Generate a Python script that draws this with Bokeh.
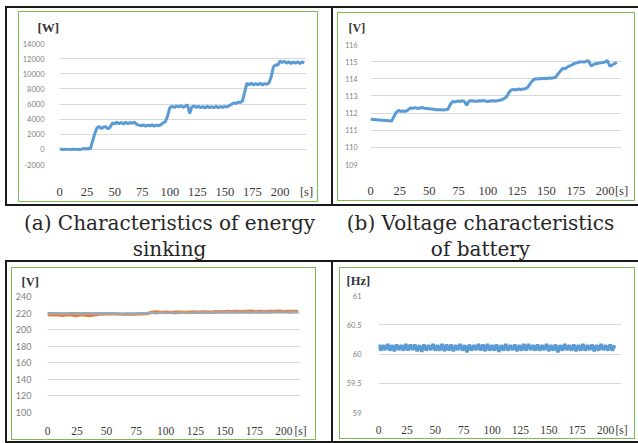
from bokeh.plotting import figure
from bokeh.models import Range1d, FixedTicker, Spacer, ColumnDataSource
from bokeh.layouts import row, column
from bokeh.core.properties import value
from bokeh.embed import file_html
from bokeh.resources import INLINE

# ---------------- data ----------------
x_ticks = [0, 25, 50, 75, 100, 125, 150, 175, 200]
x_tick_labels = ["0", "25", "50", "75", "100", "125", "150", "175", "200"]
time_unit = "[s]"

# (a) energy sinking power [W], sampled every 2 s from t = 0
power_start = 0
power_step = 2
power_w = [
    0, 20, -10, 10, 0, -20, 10, 0, 20, -10, 30,
    120, 60, 110, 80,
    1100, 2100, 2850,
    3000, 2750, 2950, 3000, 2700, 2950,
    3500, 3350, 3600, 3400, 3550, 3350, 3600, 3380, 3550, 3450,
    3600, 3300, 3200, 3100, 3250, 3080, 3200, 3100, 3250, 3080, 3200, 3120, 3280,
    3500, 3650, 4400, 5500,
    5700, 5550, 5750, 5600, 5780, 5550, 5700, 5900,
    4750, 5600, 5750, 5550, 5700, 5500, 5650, 5480, 5700, 5520, 5650, 5500, 5700, 5520, 5650, 5550, 5700, 5580,
    5800, 5950, 6150, 6050, 6250, 6200, 6400,
    7600, 8750, 8550, 8750, 8500, 8700, 8550, 8750, 8500, 8700, 8600, 8800,
    9600, 10900, 11200, 11100, 11700,
    11500, 11650, 11400, 11600, 11350, 11550, 11400, 11600, 11350, 11550, 11450,
]
power_ticks = [-2000, 0, 2000, 4000, 6000, 8000, 10000, 12000, 14000]
power_tick_labels = ["-2000", "0", "2000", "4000", "6000", "8000", "10000", "12000", "14000"]

# (b) battery voltage [V], every 2 s from t = 0
battery_start = 0
battery_step = 2
battery_v = [
    111.65, 111.63, 111.62, 111.60, 111.60, 111.58, 111.57, 111.56, 111.55, 111.53,
    111.80, 112.05, 112.15, 112.10, 112.12, 112.10, 112.18,
    112.30, 112.28, 112.32, 112.27, 112.30, 112.33, 112.28, 112.27,
    112.25, 112.24, 112.22, 112.20, 112.19, 112.20, 112.18, 112.20, 112.22,
    112.50, 112.68, 112.65, 112.70, 112.67, 112.72, 112.68, 112.45, 112.70, 112.72,
    112.70, 112.68, 112.72, 112.70, 112.73, 112.70, 112.68, 112.70, 112.72, 112.70,
    112.72, 112.75, 112.78,
    112.85, 112.95, 113.20, 113.35, 113.38, 113.35, 113.40, 113.37, 113.40, 113.42, 113.50,
    113.70, 113.88, 114.00, 113.98, 114.02, 114.00, 114.03, 114.00, 114.05, 114.03, 114.06, 114.10,
    114.30, 114.45, 114.62, 114.58, 114.70, 114.75, 114.82, 114.90, 114.93, 114.98, 115.00, 114.97,
    115.02, 115.05,
    114.75, 114.82, 114.88, 114.90, 114.93, 114.95, 114.98, 115.07,
    114.73, 114.80, 114.88, 114.95,
]
battery_ticks = [109, 110, 111, 112, 113, 114, 115, 116]
battery_tick_labels = ["109", "110", "111", "112", "113", "114", "115", "116"]

# grid voltage [V] (three phases), every 4 s from t = 0
grid_start = 0
grid_step = 4
grid_v_blue = [
    219.4, 219.7, 219.3, 219.6, 219.2, 219.8, 219.4, 219.5, 219.7, 219.3, 219.6,
    219.4, 219.6, 219.2, 219.5, 219.3, 219.0, 219.4, 219.2, 219.5, 219.6, 219.9,
    220.7, 220.3, 220.9, 220.5, 220.8, 220.4, 220.9, 220.6, 221.0, 220.7, 221.3, 221.5, 220.9, 221.1,
    221.5, 221.1, 221.6, 221.3, 221.7, 221.2, 221.5, 221.4, 221.8, 221.3, 221.6, 221.4, 221.7, 221.5,
    221.6, 221.3, 221.5, 221.6,
]
grid_v_orange = [
    217.8, 217.4, 217.6, 216.6, 217.5, 217.3, 216.5, 217.6, 217.2, 216.4, 217.5,
    218.2, 218.6, 218.9, 218.5, 218.8, 218.4, 218.6, 218.3, 218.7, 218.5, 218.9,
    221.4, 221.8, 221.2, 221.6, 221.0, 221.5, 221.7, 221.3, 221.6, 221.9, 221.4, 221.7, 221.5, 221.8,
    222.3, 222.0, 222.5, 222.2, 222.6, 222.1, 222.4, 222.7, 222.3, 222.5, 222.2, 222.6, 222.4, 222.8,
    222.3, 222.5, 222.6, 222.4,
]
grid_v_gray = [
    219.6, 219.2, 219.8, 219.0, 219.5, 219.3, 219.7, 218.9, 219.4, 219.6, 219.1,
    219.3, 219.0, 219.5, 219.2, 218.8, 219.1, 218.7, 219.0, 218.9, 219.3, 219.6,
    220.5, 219.8, 220.8, 220.1, 220.6, 219.9, 220.4, 220.7, 220.2, 220.9, 220.5, 221.0, 220.4, 220.8,
    221.2, 220.7, 221.4, 220.9, 221.3, 221.0, 221.5, 220.8, 221.3, 221.1, 221.6, 221.0, 221.4, 221.2,
    221.5, 221.1, 221.3, 221.4,
]
grid_ticks = [100, 120, 140, 160, 180, 200, 220, 240]
grid_tick_labels = ["100", "120", "140", "160", "180", "200", "220", "240"]

# grid frequency [Hz], every 2 s from t = 0
freq_start = 0
freq_step = 2
freq_hz = [
    60.16, 60.06, 60.15, 60.07, 60.17, 60.06, 60.15, 60.05, 60.16, 60.07,
    60.15, 60.06, 60.17, 60.06, 60.16, 60.07, 60.16, 60.05, 60.15, 60.04,
    60.16, 60.06, 60.15, 60.07, 60.17, 60.06, 60.15, 60.06, 60.17, 60.05,
    60.16, 60.06, 60.16, 60.05, 60.15, 60.07, 60.17, 60.06, 60.15, 60.03,
    60.16, 60.06, 60.15, 60.07, 60.17, 60.06, 60.16, 60.05, 60.17, 60.06,
    60.15, 60.06, 60.16, 60.04, 60.15, 60.06, 60.17, 60.06, 60.15, 60.07,
    60.16, 60.05, 60.15, 60.06, 60.17, 60.06, 60.17, 60.07, 60.15, 60.06,
    60.16, 60.06, 60.15, 60.07, 60.17, 60.05, 60.15, 60.06, 60.16, 60.03,
    60.15, 60.06, 60.17, 60.07, 60.15, 60.06, 60.16, 60.05, 60.15, 60.06,
    60.17, 60.06, 60.15, 60.07, 60.16, 60.05, 60.15, 60.06, 60.17, 60.07,
    60.15, 60.06, 60.16, 60.06, 60.15,
]
freq_ticks = [59, 59.5, 60, 60.5, 61]
freq_tick_labels = ["59", "59.5", "60", "60.5", "61"]

caption_a = ["(a) Characteristics of energy", "sinking"]
caption_b = ["(b) Voltage characteristics", "of battery"]

# ---------------- styling ----------------
BLUE = "#5B9BD5"
ORANGE = "#ED7D31"
GRAY = "#A5A5A5"
GREEN = "#7DBB55"
BLACK = "#1a1a1a"
TICK_FONT = "Lato"
XLAB_FONT = "Liberation Sans Narrow"


def times(start, step, vals):
    return [start + step * i for i in range(len(vals))]


def chart(w, h, L, R, T, B, xr, yr, yticks, ylabels, ysize, ystand, xsize, xstand,
          unit, u_off, u_stand, usize):
    p = figure(width=w, height=h, x_range=Range1d(*xr), y_range=Range1d(*yr),
               output_backend="svg", toolbar_location=None,
               min_border_left=L, min_border_right=R, min_border_top=T, min_border_bottom=B)
    p.background_fill_color = "white"
    p.border_fill_color = "white"
    p.outline_line_color = None
    p.xgrid.visible = False
    yt = FixedTicker(ticks=yticks)
    p.yaxis.ticker = yt
    p.ygrid.ticker = yt
    p.ygrid.grid_line_color = "#d9d9d9"
    p.ygrid.grid_line_width = 1
    # time ticks, with the time unit written at the end of the axis
    p.xaxis.ticker = FixedTicker(ticks=x_ticks + [xr[1]])
    ov = {k: v for k, v in zip(x_ticks, x_tick_labels)}
    ov[xr[1]] = time_unit
    p.xaxis.major_label_overrides = ov
    for ax in (p.xaxis[0], p.yaxis[0]):
        ax.axis_line_color = None
        ax.major_tick_line_color = None
        ax.minor_tick_line_color = None
    p.yaxis.major_label_overrides = {k: v for k, v in zip(yticks, ylabels)}
    p.yaxis.major_label_text_font = TICK_FONT
    p.yaxis.major_label_text_font_size = ysize
    p.yaxis.major_label_text_color = "#808080"
    p.yaxis.major_label_standoff = ystand
    p.xaxis.major_label_text_font = XLAB_FONT
    p.xaxis.major_label_text_font_size = xsize
    p.xaxis.major_label_text_color = "#3a3a3a"
    p.xaxis.major_label_standoff = xstand
    # unit of the value axis, shown as a title above the plot area
    p.title.text = unit
    p.title.align = "left"
    p.title.vertical_align = "top"
    p.title.offset = u_off
    p.title.standoff = u_stand
    p.title.text_font = XLAB_FONT
    p.title.text_font_style = "bold"
    p.title.text_font_size = usize
    p.title.text_color = "#333333"
    return p


def sp(w, h, color=None):
    if color is None:
        return Spacer(width=w, height=h)
    return Spacer(width=w, height=h, styles={"background-color": color})


def framed(child, w, h, color=GREEN, t=1):
    return column(sp(w, t, color),
                  row(sp(t, h - 2 * t, color), child, sp(t, h - 2 * t, color)),
                  sp(w, t, color))


def cell(content, cw, ch, bw, bh, left, top):
    parts = []
    if top > 0:
        parts.append(sp(cw, top))
    parts.append(row(sp(left, bh), content, sp(cw - left - bw, bh)))
    bot = ch - top - bh
    if bot > 0:
        parts.append(sp(cw, bot))
    return column(*parts)


# (a) power
p1 = chart(298, 189, 38, 11, 31, 32, (0, 224), (-2000, 14000), power_ticks, power_tick_labels,
           "7.5px", 9, "12.5px", 14, "[W]", -22, 14, "13px")
p1.line(times(power_start, power_step, power_w), power_w, line_color=BLUE, line_width=3)

# (b) battery voltage
p2 = chart(296, 187, 32, 13, 31, 31, (0, 214), (109, 116), battery_ticks, battery_tick_labels,
           "7px", 7, "12.5px", 13, "[V]", -22, 15, "12px")
p2.line(times(battery_start, battery_step, battery_v), battery_v, line_color=BLUE, line_width=3)

# grid voltage
p3 = chart(303, 171, 35, 15, 28, 20, (0, 214), (100, 240), grid_ticks, grid_tick_labels,
           "9px", 10, "11.5px", 6, "[V]", -26, 12, "12.5px")
tg = times(grid_start, grid_step, grid_v_blue)
p3.line(tg, grid_v_blue, line_color=BLUE, line_width=2.5)
p3.line(tg, grid_v_orange, line_color=ORANGE, line_width=2.5)
p3.line(tg, grid_v_gray, line_color=GRAY, line_width=2.5)

# frequency
p4 = chart(294, 170, 38, 13, 27, 21, (0, 214), (59, 61), freq_ticks, freq_tick_labels,
           "7.5px", 11, "11.5px", 5, "[Hz]", -32, 11, "12.5px")
p4.line(times(freq_start, freq_step, freq_hz), freq_hz, line_color=BLUE, line_width=3.5)


def caption(w, h, lines):
    c = figure(width=w, height=h, x_range=Range1d(0, 1), y_range=Range1d(0, h),
               output_backend="svg", toolbar_location=None, title=None,
               min_border_left=0, min_border_right=0, min_border_top=0, min_border_bottom=0)
    c.axis.visible = False
    c.grid.visible = False
    c.outline_line_color = None
    c.background_fill_color = "white"
    c.border_fill_color = "white"
    src = ColumnDataSource(dict(x=[0.5, 0.5], y=[h - 16, h - 42], t=lines))
    c.text(x="x", y="y", text="t", source=src, text_align="center", text_baseline="middle",
           text_font=value("DejaVu Serif"), text_font_size="20px", text_color="#262626")
    return c


W = 633
row1 = row(sp(5, 196),
           sp(2, 196, BLACK),
           cell(framed(p1, 300, 191), 324, 196, 300, 191, 11, 3),
           sp(2, 196, BLACK),
           cell(framed(p2, 298, 189), 305, 196, 298, 189, 4, 4))
caps = row(sp(4, 54), caption(330, 54, caption_a), caption(292, 54, caption_b), sp(12, 54))
row3 = row(sp(5, 179),
           sp(2, 179, BLACK),
           cell(framed(p3, 305, 173), 324, 179, 305, 173, 4, 5),
           sp(2, 179, BLACK),
           cell(framed(p4, 296, 172), 305, 179, 296, 172, 6, 5))


def hline():
    return row(sp(5, 2), sp(W, 2, BLACK))


root = column(sp(638, 6), hline(), row1, hline(), caps, hline(), row3, hline())

open("out.html", "w").write(file_html(root, INLINE))
